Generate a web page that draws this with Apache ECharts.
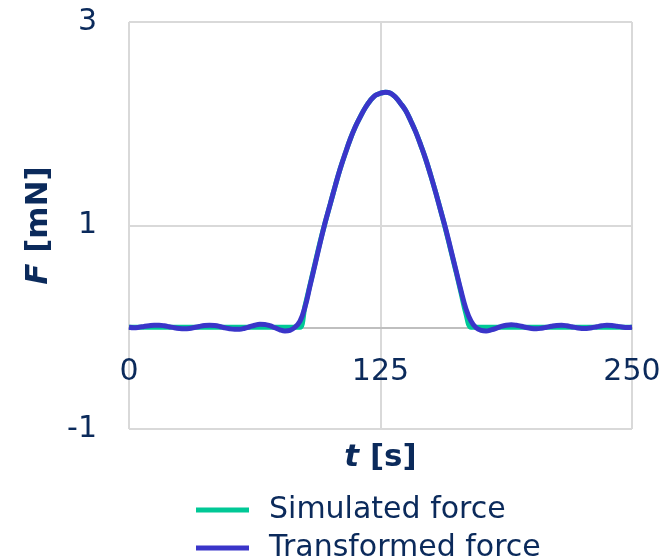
<!DOCTYPE html>
<html>
<head>
<meta charset="utf-8">
<script src="https://cdn.jsdelivr.net/npm/echarts@6/dist/echarts.min.js"></script>
<style>
  html, body { margin: 0; padding: 0; background: #fff; }
  #chart { width: 669px; height: 560px; }
</style>
</head>
<body>
<div id="chart"></div>
<script>
// sample times [s]
var time = [
  0, 2.5, 5, 7.5, 10, 12.5, 15, 17.5, 20, 22.5,
  25, 27.5, 30, 32.5, 35, 37.5, 40, 42.5, 45, 47.5,
  50, 52.5, 55, 57.5, 60, 62.5, 65, 67.5, 70, 72.5,
  75, 77.5, 80, 82.5, 85, 87.5, 90, 92.5, 95, 97.5,
  100, 102.5, 105, 107.5, 110, 112.5, 115, 117.5, 120, 122.5,
  125, 127.5, 130, 132.5, 135, 137.5, 140, 142.5, 145, 147.5,
  150, 152.5, 155, 157.5, 160, 162.5, 165, 167.5, 170, 172.5,
  175, 177.5, 180, 182.5, 185, 187.5, 190, 192.5, 195, 197.5,
  200, 202.5, 205, 207.5, 210, 212.5, 215, 217.5, 220, 222.5,
  225, 227.5, 230, 232.5, 235, 237.5, 240, 242.5, 245, 247.5,
  250
];

// force [mN]
var simulated = [
  0, 0, 0, 0, 0, 0, 0, 0, 0, 0,
  0, 0, 0, 0, 0, 0, 0, 0, 0, 0,
  0, 0, 0, 0, 0, 0, 0, 0, 0, 0,
  0, 0, 0, 0, 0, 0.21, 0.42, 0.63, 0.84, 1.03,
  1.21, 1.39, 1.56, 1.71, 1.85, 1.97, 2.07, 2.16, 2.23, 2.28,
  2.30, 2.31, 2.30, 2.26, 2.20, 2.13, 2.03, 1.92, 1.79, 1.65,
  1.49, 1.32, 1.14, 0.95, 0.75, 0.55, 0.34, 0.13, 0, 0,
  0, 0, 0, 0, 0, 0, 0, 0, 0, 0,
  0, 0, 0, 0, 0, 0, 0, 0, 0, 0,
  0, 0, 0, 0, 0, 0, 0, 0, 0, 0,
  0
];

var transformed = [
  0, -0.005, 0, 0.008, 0.015, 0.02, 0.02, 0.015, 0.005, -0.005,
  -0.012, -0.015, -0.012, -0.003, 0.008, 0.017, 0.02, 0.017, 0.008, -0.005,
  -0.015, -0.02, -0.02, -0.01, 0.005, 0.02, 0.03, 0.028, 0.015, -0.005,
  -0.025, -0.036, -0.03, 0, 0.06, 0.20, 0.41, 0.62, 0.83, 1.03,
  1.21, 1.39, 1.56, 1.71, 1.85, 1.97, 2.07, 2.16, 2.23, 2.28,
  2.30, 2.31, 2.30, 2.26, 2.20, 2.13, 2.03, 1.92, 1.79, 1.65,
  1.49, 1.32, 1.14, 0.96, 0.76, 0.56, 0.36, 0.18, 0.06, -0.005,
  -0.03, -0.036, -0.025, -0.01, 0.008, 0.02, 0.025, 0.02, 0.01, -0.003,
  -0.012, -0.015, -0.01, 0, 0.01, 0.018, 0.02, 0.015, 0.005, -0.005,
  -0.012, -0.012, -0.005, 0.005, 0.015, 0.02, 0.018, 0.01, 0.003, -0.002,
  0
];

var xTicks = [0, 125, 250];
var yTicks = [-1, 1, 3];
var seriesNames = ["Simulated force", "Transformed force"];

var navy = "#0b2a5b";
var gridGray = "#d9d9d9";
var font = "DejaVu Sans";

function pairs(xs, ys) {
  return xs.map(function (x, i) { return [x, ys[i]]; });
}

function legendRow(name, top) {
  return {
    orient: "horizontal",
    left: 191,
    top: top,
    itemWidth: 53,
    itemHeight: 5,
    icon: "rect",
    data: [name],
    selectedMode: false,
    textStyle: { fontFamily: font, fontSize: 30, color: navy, padding: [0, 0, 0, 15] }
  };
}

var chart = echarts.init(document.getElementById("chart"), null, { renderer: "canvas" });

var option = {
  animation: false,
  backgroundColor: "#fff",
  textStyle: { fontFamily: font, color: navy },
  grid: { left: 129, right: 37, top: 22, bottom: 131, containLabel: false, outerBoundsMode: "none" },
  legend: [legendRow(seriesNames[0], 490), legendRow(seriesNames[1], 528)],
  xAxis: {
    type: "value",
    min: xTicks[0],
    max: xTicks[2],
    interval: xTicks[1] - xTicks[0],
    name: "{i|t} [s]",
    nameLocation: "middle",
    nameGap: 13,
    nameMoveOverlap: false,
    nameTextStyle: {
      fontFamily: font, fontSize: 31, fontWeight: "bold", color: navy,
      rich: { i: { fontFamily: font, fontSize: 31, fontWeight: "bold", fontStyle: "italic", color: navy } }
    },
    axisLine: { show: true, onZero: true, lineStyle: { color: "#bfbfbf", width: 2 } },
    axisTick: { show: false },
    axisLabel: { margin: -72, fontSize: 30, color: navy, fontFamily: font, showMinLabel: true, showMaxLabel: true },
    splitLine: { show: true, lineStyle: { color: gridGray, width: 2 } }
  },
  yAxis: {
    type: "value",
    min: -1,
    max: 3,
    interval: 1,
    name: "{i|F} [mN]",
    nameLocation: "middle",
    nameGap: 75,
    nameTextStyle: {
      fontFamily: font, fontSize: 31, fontWeight: "bold", color: navy,
      rich: { i: { fontFamily: font, fontSize: 31, fontWeight: "bold", fontStyle: "italic", color: navy } }
    },
    axisLine: { show: false },
    axisTick: { show: false },
    axisLabel: {
      margin: 32, fontSize: 30, color: navy, fontFamily: font,
      formatter: function (v) { return yTicks.indexOf(v) >= 0 ? String(v) : ""; }
    },
    splitLine: { show: true, lineStyle: { color: [gridGray, "transparent"], width: 2 } }
  },
  series: [
    {
      name: seriesNames[0],
      type: "line",
      data: pairs(time, simulated),
      symbol: "none",
      smooth: 0.4,
      lineStyle: { color: "#00c896", width: 5 },
      itemStyle: { color: "#00c896" },
      z: 2
    },
    {
      name: seriesNames[1],
      type: "line",
      data: pairs(time, transformed),
      symbol: "none",
      smooth: 0.4,
      lineStyle: { color: "#3a35c9", width: 5 },
      itemStyle: { color: "#3a35c9" },
      z: 3
    }
  ]
};

chart.setOption(option);
</script>
</body>
</html>
